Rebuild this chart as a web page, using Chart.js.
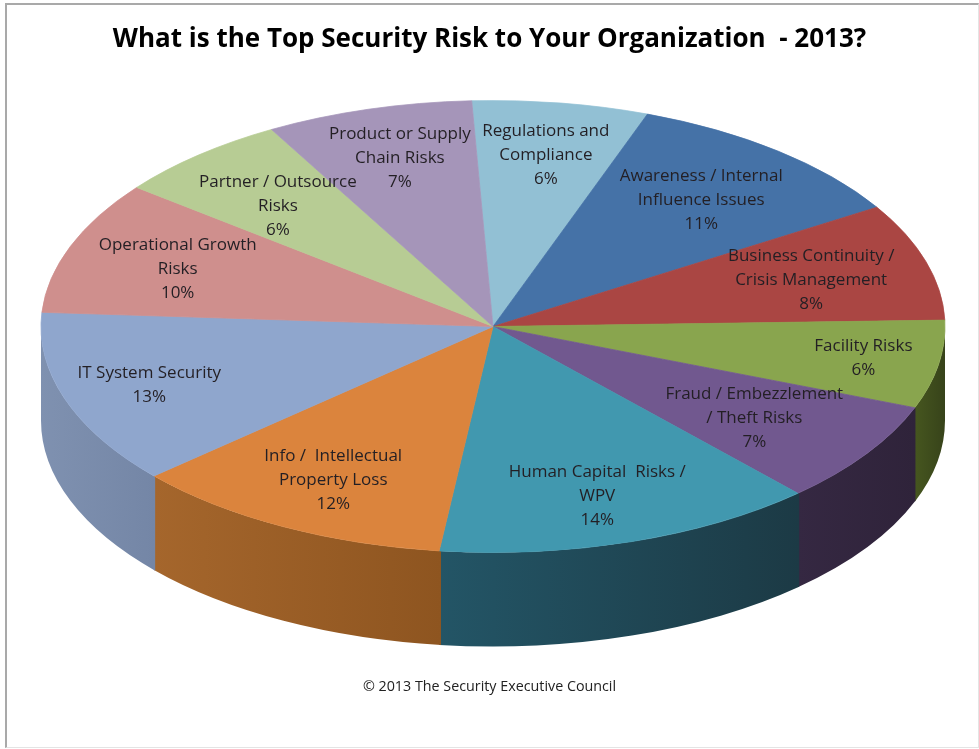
<!DOCTYPE html>
<html>
<head>
<meta charset="utf-8">
<title>Top Security Risk 2013</title>
<script src="https://cdn.jsdelivr.net/npm/chart.js"></script>
<style>
  html, body { margin: 0; padding: 0; background: #fff; }
  #wrap { position: relative; width: 979px; height: 749px; overflow: hidden; }
  #frame {
    position: absolute; left: 5px; top: 3px; right: 0; bottom: 1px;
    border-left: 2px solid #a9a9a9; border-top: 2px solid #a9a9a9;
    border-right: 1px solid #e4e4e4; border-bottom: 1px solid #e4e4e4;
  }
  canvas { position: absolute; left: 0; top: 0; }
</style>
</head>
<body>
<div id="wrap">
  <div id="frame"></div>
  <canvas id="chart" width="979" height="749"></canvas>
</div>
<script>
// slices run clockwise from the top of the pie
const categories = [
  ['Regulations and', 'Compliance'],
  ['Awareness / Internal', 'Influence Issues'],
  ['Business Continuity /', 'Crisis Management'],
  ['Facility Risks'],
  ['Fraud / Embezzlement', '/ Theft Risks'],
  ['Human Capital  Risks /', 'WPV'],
  ['Info /  Intellectual', 'Property Loss'],
  ['IT System Security'],
  ['Operational Growth', 'Risks'],
  ['Partner / Outsource', 'Risks'],
  ['Product or Supply', 'Chain Risks']
];
const shares = [6.3, 10.6, 8.4, 6.3, 7.37, 13.68, 11.6, 12.5, 9.55, 6.3, 7.4];
const percentLabels = ['6%', '11%', '8%', '6%', '7%', '14%', '12%', '13%', '10%', '6%', '7%'];

const topColors = ['#92c0d4', '#4572a7', '#aa4643', '#89a54e', '#71588f', '#4198af',
  '#db843d', '#8fa6cd', '#cf8f8d', '#b7cc94', '#a595b9'];
const wallLeft = ['#92c0d4', '#4572a7', '#aa4643', '#46561f', '#352842', '#235566',
  '#a5662c', '#7f91b0', '#d19392', '#b9cd96', '#a99bbd'];
const wallRight = ['#92c0d4', '#4572a7', '#aa4643', '#37431a', '#2f233a', '#1c3a45',
  '#8e5520', '#7486a6', '#d19392', '#b9cd96', '#a99bbd'];

// where each label sits along its slice: fraction of the radius, and degrees off the slice's middle
const labelReach = [0.778, 0.731, 0.735, 0.83, 0.70, 0.776, 0.76, 0.80, 0.745, 0.72, 0.78];
const labelTurn = [0, 0, 0, -0.6, 0, 0.5, 0, 0.8, -0.25, -0.7, 0.7];

const PIE = { x: 493, y: 326.5, radius: 452, squash: 0.5, depth: 94, startAngle: -2.7 };
const LABEL_FONT = '17px "Open Sans"';
const LABEL_LINE = 24;
const LABEL_DROP = 2;

const tiltedPie = {
  id: 'tiltedPie',
  beforeDatasetsDraw(chart) {
    const ctx = chart.ctx;
    const arcs = chart.getDatasetMeta(0).data;
    ctx.save();

    // side wall, only the part of each slice that faces the viewer
    const r = arcs[0].outerRadius;
    const ry = r * PIE.squash;
    arcs.forEach((arc, i) => {
      const a0 = Math.max(arc.startAngle - 0.004, 0);
      const a1 = Math.min(arc.endAngle, Math.PI);
      if (a1 <= a0) return;
      const xa = PIE.x + r * Math.cos(a0);
      const xb = PIE.x + r * Math.cos(a1);
      const grad = ctx.createLinearGradient(xb, 0, xa, 0);
      grad.addColorStop(0, wallLeft[i]);
      grad.addColorStop(1, wallRight[i]);
      ctx.beginPath();
      ctx.ellipse(PIE.x, PIE.y, r, ry, 0, a0, a1);
      ctx.ellipse(PIE.x, PIE.y + PIE.depth, r, ry, 0, a1, a0, true);
      ctx.closePath();
      ctx.fillStyle = grad;
      ctx.fill();
    });

    // squash the library's own arcs into the top of the disc
    const c = arcs[0];
    ctx.translate(PIE.x, PIE.y);
    ctx.scale(1, PIE.squash);
    ctx.translate(-c.x, -c.y);
  },
  afterDatasetsDraw(chart) {
    const ctx = chart.ctx;
    ctx.restore();

    const arcs = chart.getDatasetMeta(0).data;
    ctx.save();
    ctx.font = LABEL_FONT;
    ctx.fillStyle = '#231f24';
    ctx.textAlign = 'center';
    ctx.textBaseline = 'middle';
    arcs.forEach((arc, i) => {
      const mid = (arc.startAngle + arc.endAngle) / 2 + labelTurn[i] * Math.PI / 180;
      const dist = labelReach[i] * arc.outerRadius;
      const x = PIE.x + dist * Math.cos(mid);
      const y = PIE.y + dist * PIE.squash * Math.sin(mid) + LABEL_DROP;
      const lines = categories[i].concat(percentLabels[i]);
      const top = y - (lines.length - 1) * LABEL_LINE / 2;
      lines.forEach((line, k) => ctx.fillText(line, x, top + k * LABEL_LINE));
    });
    ctx.restore();
  }
};

new Chart(document.getElementById('chart'), {
  type: 'pie',
  data: {
    labels: categories,
    datasets: [{
      data: shares,
      backgroundColor: topColors,
      borderColor: topColors,
      borderWidth: 1,
      clip: false
    }]
  },
  options: {
    responsive: false,
    animation: false,
    radius: PIE.radius,
    rotation: PIE.startAngle,
    layout: { padding: 0 },
    plugins: {
      legend: { display: false },
      tooltip: { enabled: false },
      title: {
        display: true,
        text: 'What is the Top Security Risk to Your Organization  - 2013?',
        color: '#000',
        font: { family: '"Open Sans"', weight: 'bold', size: 26 },
        padding: { top: 24, bottom: 0 }
      },
      subtitle: {
        display: true,
        position: 'bottom',
        text: '\u00a9 2013 The Security Executive Council',
        color: '#222',
        font: { family: '"Open Sans"', size: 14.3 },
        padding: { top: 0, bottom: 53 }
      }
    }
  },
  plugins: [tiltedPie]
});
</script>
</body>
</html>
